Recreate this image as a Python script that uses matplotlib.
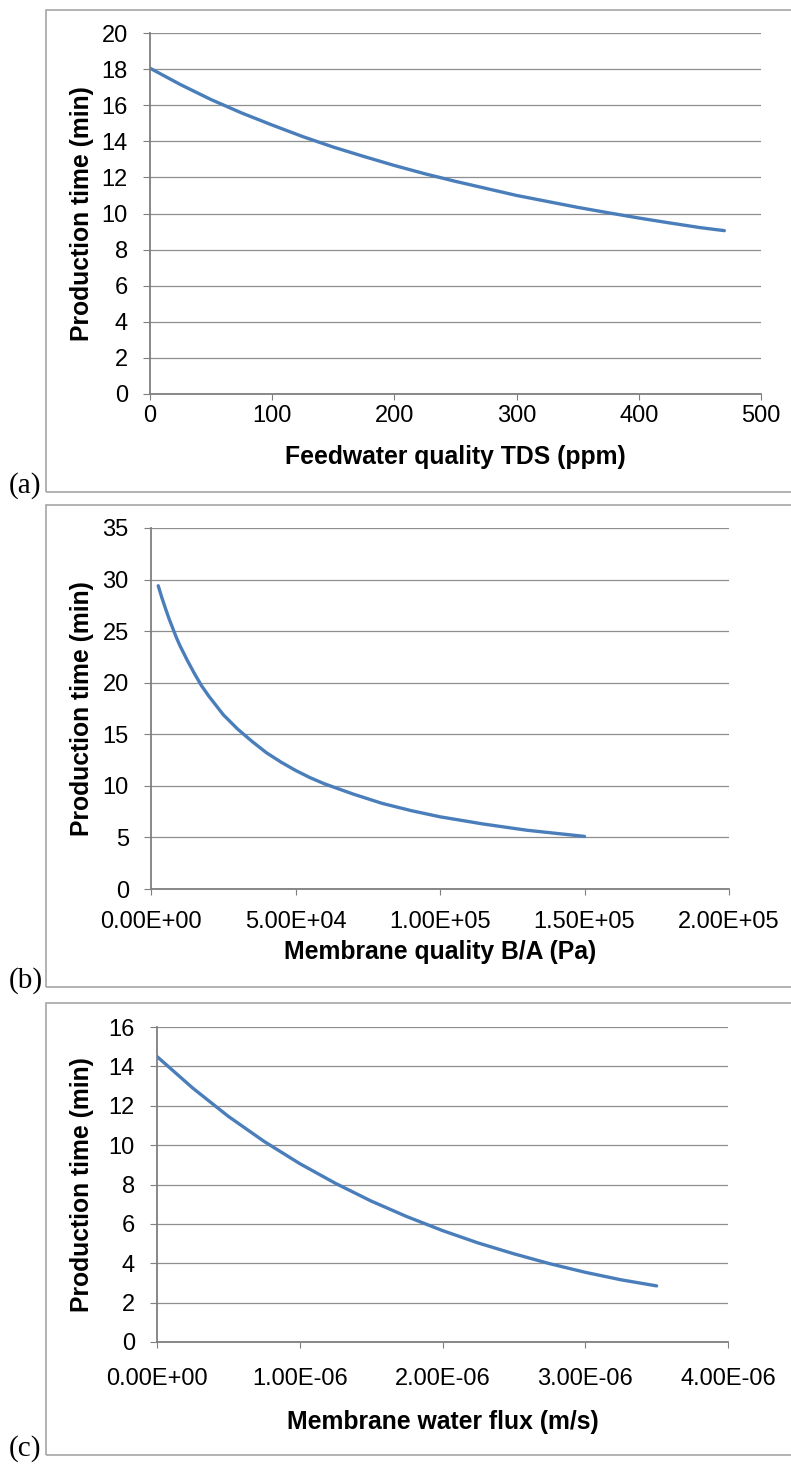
import matplotlib
matplotlib.use('Agg')
import matplotlib.pyplot as plt
from matplotlib.patches import Rectangle
from matplotlib.ticker import FuncFormatter

plt.rcParams['font.family'] = ['Liberation Sans', 'DejaVu Sans']

# (a) feedwater quality
tds = [0, 25, 50, 75, 100, 125, 150, 175, 200, 225, 250, 275, 300, 325, 350, 375, 400, 425, 450, 470]
time_a = [18.05, 17.14, 16.31, 15.57, 14.9, 14.26, 13.68, 13.16, 12.66, 12.2, 11.78, 11.39, 11.0, 10.67,
          10.34, 10.04, 9.75, 9.48, 9.22, 9.05]

# (b) membrane quality B/A
ba = [2500, 3750, 5000, 6250, 7500, 8750, 10000, 12500, 15000, 17500, 20000, 22500, 25000, 27500,
      30000, 35000, 40000, 45000, 50000, 55000, 60000, 65000, 70000, 75000, 80000, 90000, 100000,
      115000, 130000, 150000]
time_b = [29.4, 28.25, 27.2, 26.2, 25.3, 24.4, 23.6, 22.2, 20.9, 19.7, 18.7, 17.8, 16.9, 16.2,
          15.5, 14.3, 13.2, 12.3, 11.5, 10.8, 10.2, 9.7, 9.2, 8.75, 8.3, 7.6, 7.0,
          6.3, 5.7, 5.1]

# (c) membrane water flux
flux = [0.0, 0.25e-6, 0.5e-6, 0.75e-6, 1.0e-6, 1.25e-6, 1.5e-6, 1.75e-6, 2.0e-6, 2.25e-6, 2.5e-6,
        2.75e-6, 3.0e-6, 3.25e-6, 3.5e-6]
time_c = [14.5, 12.9, 11.46, 10.19, 9.06, 8.06, 7.16, 6.37, 5.66, 5.03, 4.48, 3.98, 3.54, 3.16, 2.85]

W, H = 791, 1466
fig = plt.figure(figsize=(W / 100, H / 100), dpi=100)

LINE = '#4A7EBB'
GRID = '#8e8e8e'


def rect(left, top, right, bottom):
    return [left / W, 1 - bottom / H, (right - left) / W, (bottom - top) / H]


def panel(frame, axbox, x, y, xlim, xticks, ylim, yticks, xlabel, tag, tickpad, xlab_off, sci):
    l, t, b = frame
    fig.patches.append(Rectangle((l / W, 1 - b / H), 1.2, (b - t) / H, transform=fig.transFigure,
                                 fill=False, ec='#a6a6a6', lw=1.2, zorder=0))
    fig.text(9 / W, 1 - (b - 6) / H, tag, family='Liberation Serif', fontsize=21,
             ha='left', va='center')
    ax = fig.add_axes(rect(*axbox))
    ax.plot(x, y, color=LINE, lw=2.4, solid_capstyle='round')
    ax.set_xlim(xlim)
    ax.set_ylim(ylim)
    ax.set_xticks(xticks)
    ax.set_yticks(yticks)
    ax.grid(axis='y', color=GRID, lw=0.9)
    ax.set_axisbelow(True)
    for s in ['top', 'right']:
        ax.spines[s].set_visible(False)
    for s in ['left', 'bottom']:
        ax.spines[s].set_color('#7f7f7f')
        ax.spines[s].set_linewidth(1.3)
    ax.tick_params(axis='y', length=5, color='#7f7f7f', pad=11, labelsize=17)
    ax.tick_params(axis='x', length=4.5, color='#7f7f7f', pad=tickpad, labelsize=17)
    if sci:
        ax.xaxis.set_major_formatter(FuncFormatter(lambda v, p: '{:.2E}'.format(v)))
    ax.set_ylabel('Production time (min)', fontsize=17.8, fontweight='bold')
    ax.set_xlabel(xlabel, fontsize=17.8, fontweight='bold')
    axh = axbox[3] - axbox[1]
    axw = axbox[2] - axbox[0]
    ax.yaxis.set_label_coords(-(axbox[0] - 82) / axw, 0.5)
    ax.xaxis.set_label_coords(0.5, -xlab_off / axh)
    ax.xaxis.label.set_va('center')
    ax.yaxis.label.set_va('center')
    return ax


panel((46, 10, 492), (150, 33, 761, 394), tds, time_a, (0, 500), range(0, 501, 100),
      (0, 20), range(0, 21, 2), 'Feedwater quality TDS (ppm)', '(a)', 3.5, 63, False)
panel((46, 505, 987), (151, 528, 729, 889), ba, time_b, (0, 2e5), [0, 5e4, 1e5, 1.5e5, 2e5],
      (0, 35), range(0, 36, 5), 'Membrane quality B/A (Pa)', '(b)', 11, 63, True)
panel((46, 1003, 1455), (157, 1027, 728, 1342), flux, time_c, (0, 4e-6), [0, 1e-6, 2e-6, 3e-6, 4e-6],
      (0, 16), range(0, 17, 2), 'Membrane water flux (m/s)', '(c)', 14.5, 80, True)

fig.savefig('out.png', dpi=100)
